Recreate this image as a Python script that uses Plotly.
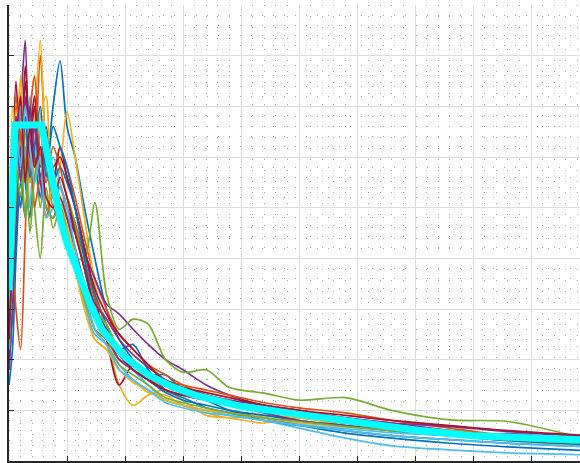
import plotly.graph_objects as go

# Period grid (s)
periods = [0, 0.03, 0.06, 0.1, 0.14, 0.18, 0.22, 0.27, 0.32, 0.38, 0.44, 0.5, 0.57, 0.65, 0.74,
           0.84, 0.95, 1.07, 1.2, 1.35, 1.5, 1.7, 1.9, 2.2, 2.5, 2.9, 3.3, 3.8, 4.3, 5.0]

blue_1 = [0.15, 0.22, 0.40, 0.55, 0.48, 0.62, 0.55, 0.66, 0.58, 0.70, 0.79, 0.66, 0.60, 0.50, 0.40,
          0.30, 0.24, 0.20, 0.17, 0.17, 0.14, 0.12, 0.10, 0.085, 0.072, 0.06, 0.05, 0.042, 0.035, 0.028]
orange_1 = [0.18, 0.30, 0.55, 0.68, 0.60, 0.70, 0.58, 0.80, 0.62, 0.55, 0.62, 0.58, 0.52, 0.44, 0.36,
            0.30, 0.25, 0.22, 0.19, 0.17, 0.15, 0.13, 0.12, 0.10, 0.09, 0.08, 0.07, 0.06, 0.05, 0.04]
yellow_1 = [0.30, 0.62, 0.72, 0.55, 0.65, 0.50, 0.66, 0.83, 0.60, 0.52, 0.58, 0.69, 0.60, 0.48, 0.35,
            0.25, 0.15, 0.11, 0.13, 0.14, 0.12, 0.09, 0.085, 0.075, 0.085, 0.07, 0.06, 0.05, 0.045, 0.035]
purple_1 = [0.21, 0.40, 0.60, 0.70, 0.83, 0.55, 0.66, 0.58, 0.62, 0.52, 0.50, 0.48, 0.45, 0.41, 0.36,
            0.31, 0.29, 0.26, 0.23, 0.20, 0.18, 0.15, 0.13, 0.11, 0.10, 0.085, 0.075, 0.06, 0.05, 0.04]
green_1 = [0.28, 0.40, 0.55, 0.50, 0.62, 0.55, 0.60, 0.50, 0.58, 0.50, 0.48, 0.44, 0.40, 0.40, 0.51,
           0.33, 0.26, 0.28, 0.27, 0.20, 0.175, 0.18, 0.145, 0.134, 0.12, 0.125, 0.10, 0.081, 0.078, 0.042]
lightblue_1 = [0.25, 0.45, 0.62, 0.70, 0.55, 0.72, 0.60, 0.65, 0.55, 0.60, 0.55, 0.50, 0.46, 0.38, 0.30,
               0.26, 0.22, 0.18, 0.15, 0.12, 0.11, 0.10, 0.095, 0.08, 0.065, 0.045, 0.03, 0.022, 0.016, 0.012]
darkred_1 = [0.30, 0.55, 0.75, 0.60, 0.78, 0.65, 0.72, 0.60, 0.66, 0.55, 0.62, 0.56, 0.50, 0.42, 0.32,
             0.24, 0.15, 0.19, 0.17, 0.15, 0.14, 0.13, 0.115, 0.10, 0.09, 0.075, 0.065, 0.055, 0.045, 0.035]

blue_2 = [0.20, 0.30, 0.45, 0.62, 0.55, 0.48, 0.60, 0.52, 0.65, 0.55, 0.58, 0.55, 0.50, 0.42, 0.33,
          0.27, 0.22, 0.23, 0.18, 0.14, 0.125, 0.105, 0.095, 0.08, 0.07, 0.055, 0.045, 0.035, 0.028, 0.02]
orange_2 = [0.24, 0.40, 0.30, 0.22, 0.45, 0.68, 0.76, 0.60, 0.55, 0.62, 0.58, 0.52, 0.47, 0.40, 0.32,
            0.28, 0.25, 0.22, 0.19, 0.16, 0.15, 0.14, 0.13, 0.115, 0.105, 0.095, 0.08, 0.065, 0.05, 0.04]
yellow_2 = [0.22, 0.35, 0.50, 0.64, 0.70, 0.55, 0.60, 0.68, 0.72, 0.55, 0.54, 0.48, 0.40, 0.32, 0.24,
            0.22, 0.18, 0.16, 0.135, 0.13, 0.11, 0.095, 0.085, 0.09, 0.085, 0.075, 0.06, 0.05, 0.04, 0.03]
purple_2 = [0.18, 0.30, 0.46, 0.62, 0.55, 0.70, 0.60, 0.56, 0.64, 0.52, 0.54, 0.50, 0.45, 0.38, 0.31,
            0.28, 0.24, 0.21, 0.185, 0.16, 0.145, 0.13, 0.12, 0.11, 0.10, 0.085, 0.075, 0.068, 0.058, 0.048]
green_2 = [0.26, 0.36, 0.52, 0.60, 0.48, 0.62, 0.50, 0.40, 0.54, 0.46, 0.50, 0.52, 0.46, 0.38, 0.30,
           0.27, 0.22, 0.19, 0.16, 0.14, 0.13, 0.12, 0.11, 0.10, 0.09, 0.08, 0.07, 0.06, 0.05, 0.042]
lightblue_2 = [0.22, 0.38, 0.55, 0.68, 0.60, 0.50, 0.62, 0.55, 0.60, 0.52, 0.50, 0.46, 0.38, 0.31, 0.25,
               0.23, 0.19, 0.16, 0.14, 0.12, 0.11, 0.10, 0.09, 0.08, 0.07, 0.06, 0.05, 0.042, 0.035, 0.028]
darkred_2 = [0.27, 0.45, 0.68, 0.58, 0.75, 0.62, 0.70, 0.56, 0.64, 0.58, 0.60, 0.56, 0.50, 0.42, 0.34,
             0.29, 0.25, 0.22, 0.19, 0.155, 0.145, 0.135, 0.125, 0.11, 0.10, 0.09, 0.08, 0.07, 0.06, 0.05]

blue_3 = [0.28, 0.42, 0.58, 0.50, 0.68, 0.56, 0.62, 0.70, 0.56, 0.66, 0.62, 0.58, 0.50, 0.40, 0.30,
          0.26, 0.21, 0.18, 0.16, 0.135, 0.12, 0.11, 0.10, 0.09, 0.08, 0.07, 0.06, 0.05, 0.04, 0.032]
orange_3 = [0.32, 0.58, 0.70, 0.64, 0.55, 0.62, 0.50, 0.56, 0.48, 0.55, 0.52, 0.48, 0.42, 0.34, 0.26,
            0.24, 0.20, 0.19, 0.165, 0.14, 0.13, 0.12, 0.11, 0.10, 0.09, 0.08, 0.07, 0.058, 0.05, 0.042]
yellow_3 = [0.34, 0.70, 0.62, 0.76, 0.58, 0.62, 0.55, 0.60, 0.50, 0.54, 0.52, 0.46, 0.38, 0.30, 0.24,
            0.22, 0.18, 0.155, 0.14, 0.12, 0.11, 0.10, 0.095, 0.085, 0.075, 0.068, 0.06, 0.055, 0.048, 0.04]
purple_3 = [0.26, 0.50, 0.68, 0.55, 0.72, 0.60, 0.66, 0.55, 0.50, 0.48, 0.52, 0.48, 0.42, 0.35, 0.28,
            0.25, 0.20, 0.18, 0.16, 0.14, 0.13, 0.12, 0.11, 0.095, 0.08, 0.07, 0.06, 0.05, 0.054, 0.04]
green_3 = [0.30, 0.44, 0.58, 0.52, 0.60, 0.45, 0.56, 0.62, 0.50, 0.48, 0.50, 0.45, 0.38, 0.32, 0.26,
           0.23, 0.19, 0.17, 0.15, 0.125, 0.115, 0.105, 0.095, 0.085, 0.078, 0.068, 0.06, 0.05, 0.042, 0.035]
lightblue_3 = [0.32, 0.50, 0.66, 0.58, 0.70, 0.62, 0.55, 0.60, 0.48, 0.50, 0.54, 0.50, 0.42, 0.34, 0.26,
               0.23, 0.18, 0.16, 0.14, 0.115, 0.105, 0.095, 0.09, 0.08, 0.072, 0.064, 0.056, 0.05, 0.044, 0.038]
darkred_3 = [0.24, 0.40, 0.62, 0.72, 0.55, 0.66, 0.58, 0.62, 0.52, 0.50, 0.56, 0.52, 0.45, 0.38, 0.30,
             0.26, 0.21, 0.18, 0.16, 0.14, 0.13, 0.12, 0.11, 0.10, 0.09, 0.075, 0.065, 0.055, 0.045, 0.036]

# Design (target) spectrum
target_periods = [0, 0.05, 0.28, 0.32, 0.36, 0.4, 0.45, 0.5, 0.6, 0.7, 0.8, 0.9, 1.0, 1.2, 1.4,
                  1.6, 1.8, 2.0, 2.5, 3.0, 3.5, 4.0, 4.5, 5.0]
target_values = [0.337, 0.663, 0.663, 0.62, 0.57, 0.52, 0.47, 0.43, 0.37, 0.31, 0.26, 0.23, 0.205,
                 0.170, 0.147, 0.130, 0.118, 0.108, 0.092, 0.075, 0.061, 0.050, 0.045, 0.041]

series = [
    (blue_1, '#0072BD'), (orange_1, '#D95319'), (yellow_1, '#EDB120'), (purple_1, '#7E2F8E'),
    (green_1, '#77AC30'), (lightblue_1, '#4DBEEE'), (darkred_1, '#A2142F'),
    (blue_2, '#0072BD'), (orange_2, '#D95319'), (yellow_2, '#EDB120'), (purple_2, '#7E2F8E'),
    (green_2, '#77AC30'), (lightblue_2, '#4DBEEE'), (darkred_2, '#A2142F'),
    (blue_3, '#0072BD'), (orange_3, '#D95319'), (yellow_3, '#EDB120'), (purple_3, '#7E2F8E'),
    (green_3, '#77AC30'), (lightblue_3, '#4DBEEE'), (darkred_3, '#A2142F'),
]

fig = go.Figure()
for vals, col in series:
    fig.add_trace(go.Scatter(x=periods, y=vals, mode='lines',
                             line=dict(color=col, width=1.7, shape='spline', smoothing=0.8),
                             showlegend=False, hoverinfo='skip'))
fig.add_trace(go.Scatter(x=target_periods, y=target_values, mode='lines',
                         line=dict(color='#00FFFF', width=7, shape='linear'),
                         showlegend=False, hoverinfo='skip'))

axis_common = dict(showticklabels=False, showline=True, linecolor='#262626', linewidth=1.5,
                   ticks='inside', ticklen=5, tickcolor='#262626', mirror=False,
                   showgrid=True, gridcolor='#dcdcdc', gridwidth=1, zeroline=False)

fig.update_xaxes(range=[0, 4.922], dtick=0.5, tick0=0,
                 minor=dict(dtick=0.1, showgrid=True, gridcolor='#a8a8a8', griddash='1px,10px',
                            gridwidth=1, ticks=''),
                 **axis_common)
fig.update_yaxes(range=[0, 0.9], dtick=0.1, tick0=0,
                 minor=dict(dtick=0.02, showgrid=True, gridcolor='#a8a8a8', griddash='1px,10px',
                            gridwidth=1, ticks=''),
                 **axis_common)

fig.update_layout(width=580, height=463, margin=dict(l=9, r=0, t=5, b=2),
                  paper_bgcolor='white', plot_bgcolor='white')

fig.write_html("out.html")
